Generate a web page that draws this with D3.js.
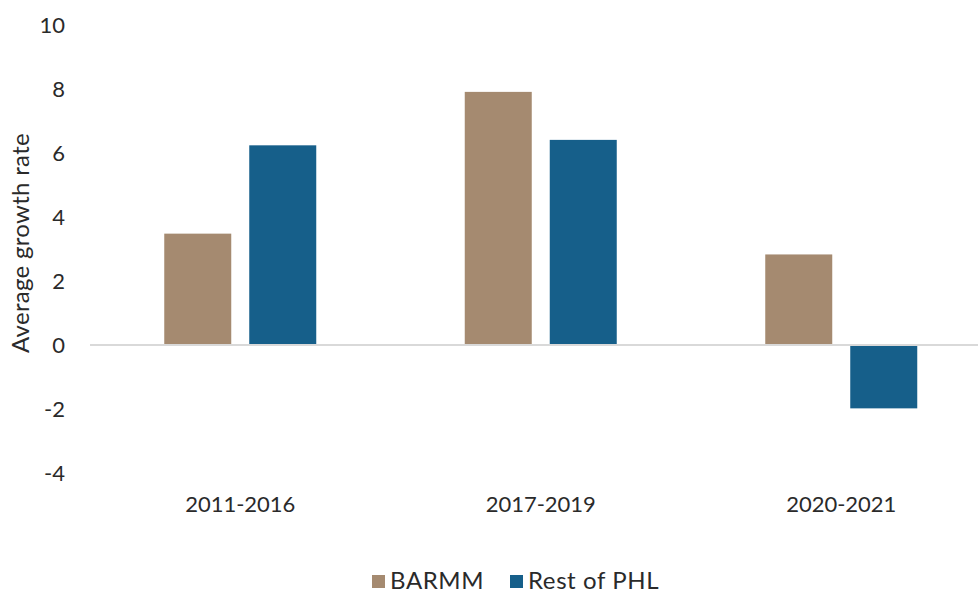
<!DOCTYPE html>
<html>
<head>
<meta charset="utf-8">
<script src="https://cdn.jsdelivr.net/npm/d3@7"></script>
<style>
  html, body { margin: 0; padding: 0; background: #fff; }
  svg { display: block; font-family: Lato, "Open Sans", sans-serif; }
</style>
</head>
<body>
<svg id="chart" width="978" height="593"></svg>
<script>
const categories = ["2011-2016", "2017-2019", "2020-2021"];
const seriesNames = ["BARMM", "Rest of PHL"];
const barmm = [3.48, 7.91, 2.83];
const restOfPHL = [6.24, 6.41, -1.98];
const yTicks = [-4, -2, 0, 2, 4, 6, 8, 10];
const colors = ["#A58A70", "#165F8A"];

const data = categories.map((c, i) => ({ cat: c, values: [barmm[i], restOfPHL[i]] }));

const svg = d3.select("#chart");
const W = 978, H = 593;
const mLeft = 90, mRight = 991.5, mTop = 25, mBottom = 473;
const textColor = "#2a2a2a";

const x = d3.scaleBand().domain(categories).range([mLeft, mRight]).paddingInner(0).paddingOuter(0);
const y = d3.scaleLinear().domain([-4, 10]).range([mBottom, mTop]);
const barW = 67, gap = 18;

// y axis labels
const yAxis = d3.axisLeft(y).tickValues(yTicks).tickSize(0).tickPadding(0).tickFormat(d => String(d));
const yg = svg.append("g").attr("transform", `translate(65,0)`).call(yAxis);
yg.select(".domain").remove();
yg.selectAll("text").attr("font-size", 22).attr("fill", textColor).attr("font-family", "Lato, sans-serif");

// bars
const groups = svg.append("g").selectAll("g").data(data).join("g")
  .attr("transform", d => `translate(${x(d.cat) + x.bandwidth() / 2},0)`);
groups.selectAll("rect").data(d => d.values.map((v, i) => ({ v, i }))).join("rect")
  .attr("x", d => d.i === 0 ? -(barW + gap / 2) : gap / 2)
  .attr("width", barW)
  .attr("y", d => y(Math.max(0, d.v)))
  .attr("height", d => Math.abs(y(d.v) - y(0)))
  .attr("fill", d => colors[d.i]);

// zero line
svg.append("line")
  .attr("x1", mLeft).attr("x2", W)
  .attr("y1", y(0)).attr("y2", y(0))
  .attr("stroke", "#d9d9d9").attr("stroke-width", 2);

// x axis labels
const xAxis = d3.axisBottom(x).tickSize(0).tickPadding(0);
const xg = svg.append("g").attr("transform", `translate(0,${mBottom + 39})`).call(xAxis);
xg.select(".domain").remove();
xg.selectAll("text").attr("font-size", 22).attr("fill", textColor).attr("font-family", "Lato, sans-serif").attr("dy", "0");

// y title
svg.append("text")
  .attr("transform", `translate(29,243) rotate(-90)`)
  .attr("text-anchor", "middle")
  .attr("font-size", 24)
  .attr("letter-spacing", 0.3)
  .attr("fill", textColor)
  .text("Average growth rate");

// legend
const legendItems = [
  { name: seriesNames[0], color: colors[0], x: 372 },
  { name: seriesNames[1], color: colors[1], x: 510 }
];
const lg = svg.append("g").selectAll("g").data(legendItems).join("g")
  .attr("transform", d => `translate(${d.x},575)`);
lg.append("rect").attr("width", 13).attr("height", 13).attr("fill", d => d.color);
lg.append("text").attr("x", 18).attr("y", 14).attr("font-size", 24).attr("letter-spacing", 0.6)
  .attr("fill", textColor).text(d => d.name);
</script>
</body>
</html>
